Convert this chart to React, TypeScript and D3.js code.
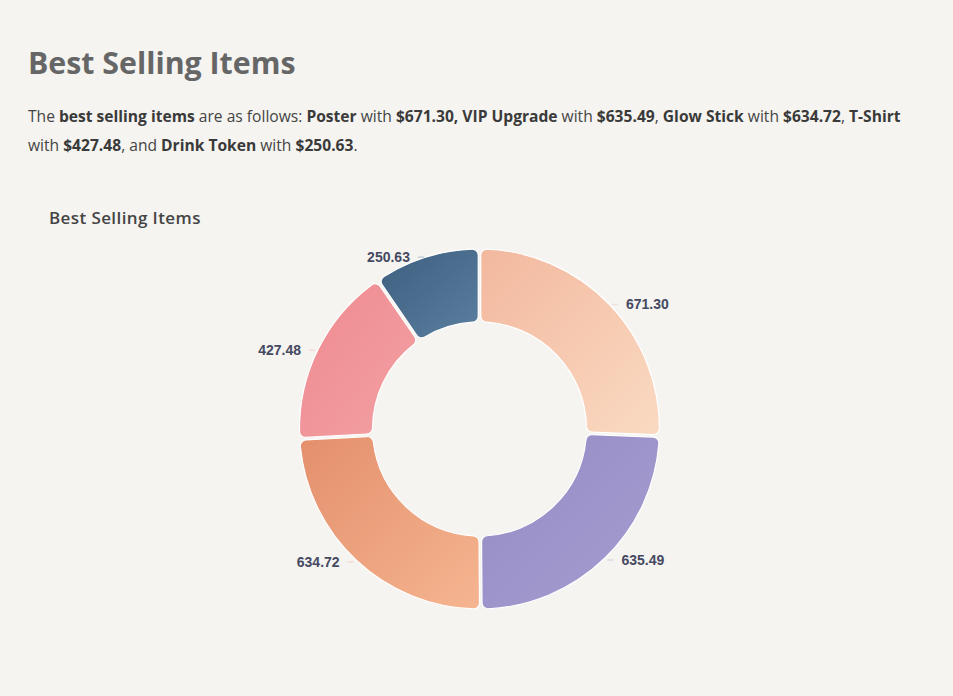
import React from "react";
import * as d3 from "d3";

// items in chart order (clockwise from 12 o'clock)
const items = ["Poster", "VIP Upgrade", "Glow Stick", "T-Shirt", "Drink Token"];
const values = [671.3, 635.49, 634.72, 427.48, 250.63];
// gradient stops: top-left -> bottom-right
const colorsFrom = ["#f2b89e", "#948bc3", "#e48f6c", "#ee8a90", "#3d5f80"];
const colorsTo = ["#fadac2", "#a69ed2", "#f5b590", "#f3a1a4", "#5b7f9e"];

const W = 953;
const H = 696;
const cx = 479.5;
const cy = 429;
const outerR = 180;
const innerR = 107;

const bodyFont = "'Open Sans', 'Noto Sans', sans-serif";
const labelFont = "'Liberation Sans', Arial, sans-serif";

const money = (v: number) => "$" + v.toFixed(2);

export default function App() {
  const data = items.map((name, i) => ({ name, value: values[i], i }));

  const pie = d3.pie<any>().sort(null).value((d) => d.value);
  const arcs = pie(data);

  const arc = d3
    .arc<any>()
    .innerRadius(innerR)
    .outerRadius(outerR)
    .cornerRadius(6)
    .padAngle(0.012);

  // sentence pieces: [text, bold]
  const line1: [string, boolean][] = [
    ["The ", false],
    ["best selling items", true],
    [" are as follows: ", false],
    [items[0], true],
    [" with ", false],
    [money(values[0]) + ",", true],
    [" ", false],
    [items[1], true],
    [" with ", false],
    [money(values[1]), true],
    [", ", false],
    [items[2], true],
    [" with ", false],
    [money(values[2]), true],
    [", ", false],
    [items[3], true],
  ];
  const line2: [string, boolean][] = [
    ["with ", false],
    [money(values[3]), true],
    [", and ", false],
    [items[4], true],
    [" with ", false],
    [money(values[4]), true],
    [".", false],
  ];

  const renderLine = (parts: [string, boolean][], y: number) => (
    <text x={28} y={y} fontFamily={bodyFont} fontSize={15.6} fill="#444" style={{ whiteSpace: "pre" }}>
      {parts.map(([t, b], k) => (
        <tspan key={k} fontWeight={b ? 700 : 400} fill={b ? "#3a3a3a" : "#444"}>
          {t}
        </tspan>
      ))}
    </text>
  );

  return (
    <svg
      width={W}
      height={H}
      style={{ position: "absolute", left: 0, top: 0, display: "block" }}
    >
      <defs>
        {data.map((d) => (
          <linearGradient key={d.i} id={"grad" + d.i} x1="0" y1="0" x2="1" y2="1">
            <stop offset="0%" stopColor={colorsFrom[d.i]} />
            <stop offset="100%" stopColor={colorsTo[d.i]} />
          </linearGradient>
        ))}
      </defs>
      <rect width={W} height={H} fill="#f5f4f0" />

      {/* page heading */}
      <text x={28} y={74} fontFamily={bodyFont} fontSize={30.3} fontWeight={700} fill="#666">
        Best Selling Items
      </text>
      {renderLine(line1, 122)}
      {renderLine(line2, 151)}

      {/* chart title */}
      <text x={49} y={224} fontFamily={bodyFont} fontSize={17} fontWeight={600} fill="#444" letterSpacing={0.4}>
        Best Selling Items
      </text>

      <g transform={`translate(${cx},${cy})`}>
        {arcs.map((a) => (
          <path
            key={a.data.i}
            d={arc(a) as string}
            fill={`url(#grad${a.data.i})`}
            stroke="#ffffff"
            strokeWidth={1.2}
          />
        ))}
        {arcs.map((a) => {
          const mid = (a.startAngle + a.endAngle) / 2;
          const px = Math.sin(mid) * (outerR + 1);
          const py = -Math.cos(mid) * (outerR + 1);
          const side = px >= 0 ? 1 : -1;
          return (
            <g key={"l" + a.data.i}>
              <line
                x1={px + side * 2}
                y1={py + 1}
                x2={px + side * 8}
                y2={py + 1}
                stroke={colorsFrom[a.data.i]}
                strokeOpacity={0.35}
                strokeWidth={1}
              />
              <text
                x={px + side * 16}
                y={py + 1}
                dy="0.35em"
                textAnchor={side > 0 ? "start" : "end"}
                fontFamily={labelFont}
                fontSize={14}
                fontWeight={700}
                fill="#464962"
              >
                {a.data.value.toFixed(2)}
              </text>
            </g>
          );
        })}
      </g>
    </svg>
  );
}
